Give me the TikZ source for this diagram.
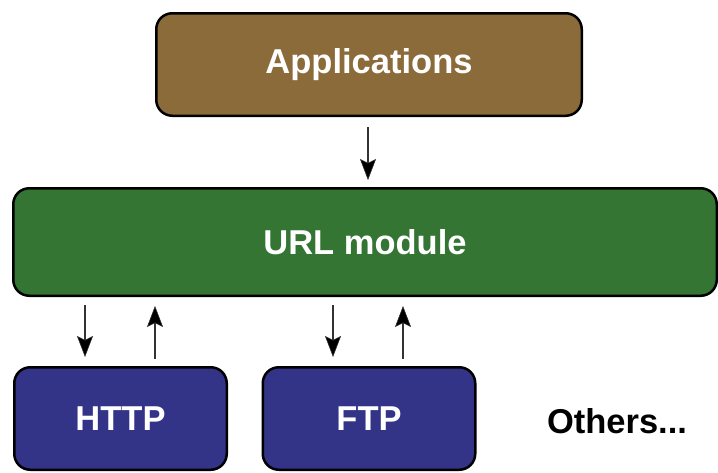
\documentclass[tikz,border=0pt]{standalone}
\usepackage{fontspec}
\setmainfont{Liberation Sans}
\usetikzlibrary{arrows.meta,calc}
\definecolor{appbrown}{HTML}{8C6B3A}
\definecolor{urlgreen}{HTML}{347534}
\definecolor{protoblue}{HTML}{333388}
\tikzset{
  boxbase/.style={draw=black, line width=2.5pt, rounded corners=16pt, inner sep=0pt,
    text=white, font=\fontsize{34.5}{40}\selectfont\bfseries},
  arr/.style={line width=1.6pt, draw=black!80, -{Stealth[length=21pt,width=16pt,inset=4pt,fill=black,line width=0.5pt]}},
}
\begin{document}
\begin{tikzpicture}[x=1pt,y=-1pt]
\useasboundingbox (0,0) rectangle (718,472);
\node[boxbase, fill=appbrown, minimum width=425.5pt, minimum height=102.5pt] (app) at (369,64.5) {Applications};
\node[boxbase, fill=urlgreen, minimum width=703.5pt, minimum height=107.5pt] (url) at (365,242) {URL module};
\node[boxbase, fill=protoblue, minimum width=212.5pt, minimum height=102.5pt] (http) at (120.5,418.5) {HTTP};
\node[boxbase, fill=protoblue, minimum width=212.5pt, minimum height=102.5pt] (ftp) at (369,418.5) {FTP};
\node[anchor=base, inner sep=0pt, font=\fontsize{34.5}{40}\selectfont\bfseries] (oth) at (617,433) {Others...};
\draw[arr] ($(app.south)+(-1,10)$) -- ($(app.south |- url.north)+(-1,-7)$);
\draw[arr] ($(http.north |- url.south)+(-35.5,8)$) -- ($(http.north)+(-35.5,-9)$);
\draw[arr] ($(http.north)+(34.5,-7)$) -- ($(http.north |- url.south)+(34.5,9)$);
\draw[arr] ($(ftp.north |- url.south)+(-36,8)$) -- ($(ftp.north)+(-36,-9)$);
\draw[arr] ($(ftp.north)+(34,-7)$) -- ($(ftp.north |- url.south)+(34,9)$);
\end{tikzpicture}
\end{document}
